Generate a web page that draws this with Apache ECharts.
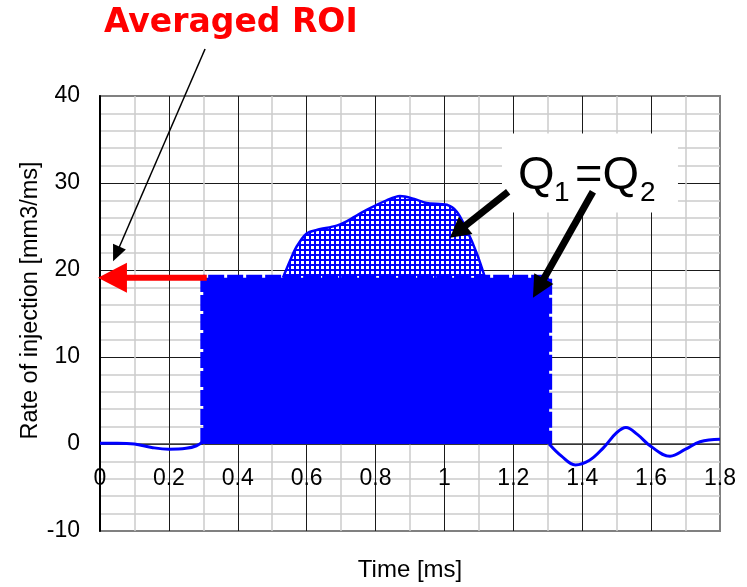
<!DOCTYPE html>
<html>
<head>
<meta charset="utf-8">
<script src="https://cdn.jsdelivr.net/npm/echarts@6/dist/echarts.min.js"></script>
<style>html,body{margin:0;padding:0;background:#fff;}#c{width:747px;height:587px;}</style>
</head>
<body>
<div id="c"></div>
<script>
// ---- data ----
const xTicks = [0, 0.2, 0.4, 0.6, 0.8, 1, 1.2, 1.4, 1.6, 1.8];
const yTicks = [-10, 0, 10, 20, 30, 40];
const roiLevel = 19.1;            // averaged rate of injection
const roiStart = 0.3, roiEnd = 1.304;
const leftCurve = [[0,0.1],[0.05,0.1],[0.1,0],[0.15,-0.4],[0.2,-0.6],[0.25,-0.5],[0.28,-0.2],[0.3,0.3]];
const humpCurve = [[0.531,19.1],[0.552,21.1],[0.571,22.7],[0.600,24.2],[0.629,24.6],[0.687,25.1],[0.716,25.6],[0.774,26.9],[0.832,28.0],[0.871,28.5],[0.910,28.2],[0.948,27.7],[1.007,27.5],[1.036,26.7],[1.065,24.6],[1.094,21.9],[1.118,19.1]];
const rightCurve = [[1.304,0],[1.34,-1.4],[1.38,-2.4],[1.42,-1.9],[1.46,-0.5],[1.5,1.3],[1.527,1.9],[1.56,1.1],[1.6,-0.3],[1.655,-1.4],[1.7,-0.6],[1.742,0.26],[1.8,0.55]];
const roiRect = [[roiStart,0],[roiStart,roiLevel],[roiEnd,roiLevel],[roiEnd,0]];
// annotation anchors (data coords)
const redArrow = [[0.31, roiLevel], [-0.006, roiLevel]];
const thinArrow = [[0.305, 45.4], [0.038, 21.0]];
const thickArrow1 = [[1.185, 29.0], [1.016, 23.7]];
const thickArrow2 = [[1.431, 29.0], [1.257, 16.8]];
const qBox = [[1.167, 35.7], [1.678, 26.6]];

const BLUE = '#0000ff';
const pat = document.createElement('canvas');
pat.width = 5; pat.height = 5;
const pc = pat.getContext('2d');
pc.fillStyle = BLUE; pc.fillRect(0,0,5,5);
pc.fillStyle = '#ffffff'; pc.fillRect(1,1,3,3);

const chart = echarts.init(document.getElementById('c'), null, {renderer:'canvas'});
const numFont = 'Liberation Sans';
chart.setOption({
  animation: false,
  backgroundColor: '#fff',
  grid: {left: 100, right: 27, top: 96, bottom: 56, containLabel: false, outerBoundsMode: 'none',
         show: true, borderColor: '#808080', borderWidth: 2, backgroundColor: 'transparent'},
  xAxis: {
    type: 'value', min: xTicks[0], max: xTicks[xTicks.length-1], interval: 0.2,
    name: 'Time [ms]', nameLocation: 'middle', nameGap: 27, nameMoveOverlap: false,
    nameTextStyle: {fontFamily: numFont, fontSize: 24, color: '#000'},
    axisLine: {show: false, onZero: false},
    axisTick: {show: false},
    axisLabel: {margin: -64, fontFamily: numFont, fontSize: 23, color: '#000',
      hideOverlap: false, formatter: v => String(+v.toFixed(1))},
    splitLine: {show: true, showMinLine: false, showMaxLine: false, lineStyle: {color: '#1a1a1a', width: 1}},
    minorTick: {show: false, splitNumber: 2},
    minorSplitLine: {show: true, lineStyle: {color: '#cccccc', width: 1.5}}
  },
  yAxis: {
    type: 'value', min: yTicks[0], max: yTicks[yTicks.length-1], interval: 10,
    name: 'Rate of injection [mm3/ms]', nameLocation: 'middle', nameGap: 57, nameMoveOverlap: false,
    nameTextStyle: {fontFamily: numFont, fontSize: 23.5, color: '#000', padding: [0, 0, 0, 26]},
    axisLine: {show: true, onZero: false, lineStyle: {color: '#000', width: 2}},
    axisTick: {show: false},
    axisLabel: {margin: 20, fontFamily: numFont, fontSize: 23, color: '#000'},
    splitLine: {show: true, showMinLine: false, showMaxLine: false,
      lineStyle: {color: '#1a1a1a', width: 1}},
    minorTick: {show: false, splitNumber: 5},
    minorSplitLine: {show: true, lineStyle: {color: '#cccccc', width: 1.5}}
  },
  series: [
    {type: 'line', data: humpCurve, smooth: 0.3, symbol: 'none', z: 2,
     lineStyle: {color: BLUE, width: 2.5}, areaStyle: {color: {image: pat, repeat: 'repeat'}, opacity: 1}},
    {type: 'line', data: roiRect, symbol: 'none', z: 3,
     lineStyle: {color: BLUE, width: 6, type: [16, 3]}, areaStyle: {color: BLUE, opacity: 1}},
    {type: 'line', data: leftCurve, smooth: 0.4, symbol: 'none', z: 4, lineStyle: {color: BLUE, width: 3}},
    {type: 'line', data: rightCurve, smooth: 0.4, symbol: 'none', z: 4, lineStyle: {color: BLUE, width: 3}}
  ]
});

function px(p){ return chart.convertToPixel({gridIndex: 0}, p); }
function arrow(a, b, lw, hl, hw, color){
  const p0 = px(a), p1 = px(b);
  const dx = p1[0]-p0[0], dy = p1[1]-p0[1], L = Math.hypot(dx, dy);
  const ux = dx/L, uy = dy/L, nx = -uy, ny = ux;
  const bx = p1[0]-ux*hl, by = p1[1]-uy*hl;
  return [
    {type:'line', z: 100, shape:{x1:p0[0], y1:p0[1], x2:bx+ux*2, y2:by+uy*2}, style:{stroke:color, lineWidth:lw}},
    {type:'polygon', z: 100, shape:{points:[[p1[0],p1[1]],[bx+nx*hw/2, by+ny*hw/2],[bx-nx*hw/2, by-ny*hw/2]]}, style:{fill:color}}
  ];
}
const zeroA = px([0, 0]), zeroB = px([1.8, 0]);
const b0 = px(qBox[0]), b1 = px(qBox[1]);
const els = [].concat(
  [{type:'line', z: 1, silent: true, shape:{x1:zeroA[0], y1:zeroA[1], x2:zeroB[0], y2:zeroB[1]}, style:{stroke:'#404040', lineWidth:1.5}}],
  arrow(redArrow[0], redArrow[1], 6, 29, 30, '#ff0000'),
  arrow(thinArrow[0], thinArrow[1], 1.5, 16, 14, '#000'),
  [
    {type:'rect', z: 90, shape:{x:b0[0], y:b0[1], width:b1[0]-b0[0], height:b1[1]-b0[1]}, style:{fill:'#fff'}},
    {type:'text', z: 100, x: 518, y: 176, style:{text:'Q', font:'47px "Liberation Sans"', fill:'#000', verticalAlign:'middle'}},
    {type:'text', z: 100, x: 554, y: 193.5, style:{text:'1', font:'28px "Liberation Sans"', fill:'#000', verticalAlign:'middle'}},
    {type:'text', z: 100, x: 575, y: 176, style:{text:'=Q', font:'47px "Liberation Sans"', fill:'#000', verticalAlign:'middle'}},
    {type:'text', z: 100, x: 640, y: 193.5, style:{text:'2', font:'28px "Liberation Sans"', fill:'#000', verticalAlign:'middle'}},
    {type:'text', z: 100, x: 104, y: 23, style:{text:'Averaged ROI', font:'bold 33px "DejaVu Sans"', fill:'#ff0000', verticalAlign:'middle'}}
  ],
  arrow(thickArrow1[0], thickArrow1[1], 7, 20, 22, '#000'),
  arrow(thickArrow2[0], thickArrow2[1], 7, 22, 22, '#000')
);
chart.setOption({graphic: {elements: els}});
</script>
</body>
</html>
